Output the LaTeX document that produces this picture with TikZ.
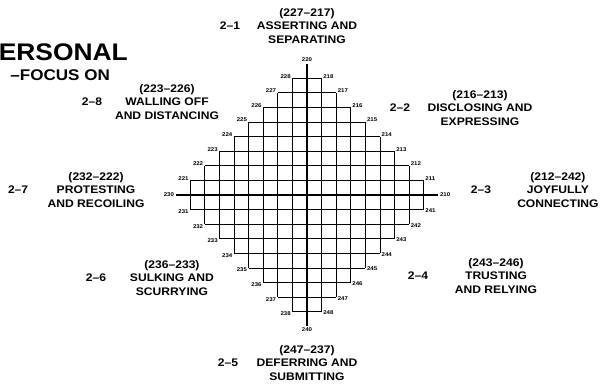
\documentclass[tikz,border=0pt]{standalone}
\usepackage{fontspec}
\setmainfont{Liberation Sans}[FakeStretch=1.1]
\usetikzlibrary{positioning}
\tikzset{
    base/.style={font=\bfseries, align=center, inner sep=0pt},
    cluster/.style={base, font=\fontsize{11}{13.5}\selectfont\bfseries},
    clnum/.style={base, font=\fontsize{11}{13.5}\selectfont\bfseries},
    pole/.style={base, font=\fontsize{5.5}{6}\selectfont\bfseries, inner sep=1.5pt},
    title/.style={base, anchor=east},
    cell/.style={line width=0.9pt},
    axis/.style={line width=2pt}
}

\begin{document}
\begin{tikzpicture}[x=14.6pt, y=14.6pt]
  \useasboundingbox (-21.03,-13.42) rectangle (20.21,13.36);
  \clip (-21.03,-13.42) rectangle (20.21,13.36);

  % Heading (at the left edge)
  \node[title, font=\fontsize{24}{28}\selectfont\bfseries] (ttl) at (-12.26,9.79) {ERSONAL};
  \node[title, font=\fontsize{15.5}{18}\selectfont\bfseries] (sub) at (-13.49,8.22) {--FOCUS ON};

  % Staircase grid
  \foreach \j in {-8,...,8}{
    \pgfmathtruncatemacro{\h}{min(8,9-abs(\j))}
    \draw[cell] (-\h,\j) -- (\h,\j);
  }
  \foreach \i in {-8,...,-1,1,2,...,8}{
    \pgfmathtruncatemacro{\v}{9-abs(\i)}
    \draw[cell] (\i,-\v) -- (\i,\v);
  }

  % Axes
  \coordinate (top) at (0,9);
  \coordinate (bot) at (0,-9);
  \coordinate (lft) at (-9,0);
  \coordinate (rgt) at (9,0);
  \draw[axis] (bot) -- (top);
  \draw[axis] (lft) -- (rgt);
  \node[pole, anchor=south] (p220) at (top) {220};
  \node[pole, anchor=west] (p210) at (rgt) {210};
  \node[pole, anchor=north] (p240) at (bot) {240};
  \node[pole, anchor=east] (p230) at (lft) {230};

  % Point numbers at the corners
  \foreach \y in {1,...,8}{
    \pgfmathtruncatemacro{\x}{9-\y}
    \pgfmathtruncatemacro{\a}{210+\y}
    \pgfmathtruncatemacro{\b}{220+\y}
    \pgfmathtruncatemacro{\c}{230+\y}
    \pgfmathtruncatemacro{\d}{240+\y}
    \node[pole, anchor=west, yshift=2pt] (q1-\y) at (\x,\y) {\a};
    \node[pole, anchor=east, yshift=2pt] (q2-\y) at (-\x,\y) {\b};
    \node[pole, anchor=east, yshift=-2pt] (q3-\y) at (-\x,-\y) {\c};
    \node[pole, anchor=west, yshift=-1pt] (q4-\y) at (\x,-\y) {\d};
  }

  % Clusters
  \node[cluster] (c1) at (0,11.58) {(227--217)\\ASSERTING AND\\SEPARATING};
  \node[clnum] (n1) at (-5.27,11.58) {2--1};
  \node[cluster] (c2) at (11.85,5.96) {(216--213)\\DISCLOSING AND\\EXPRESSING};
  \node[clnum] (n2) at (6.37,5.96) {2--2};
  \node[cluster] (c3) at (17.19,0.34) {(212--242)\\JOYFULLY\\CONNECTING};
  \node[clnum] (n3) at (11.92,0.34) {2--3};
  \node[cluster] (c4) at (12.95,-5.55) {(243--246)\\TRUSTING\\AND RELYING};
  \node[clnum] (n4) at (7.60,-5.55) {2--4};
  \node[cluster] (c5) at (0,-11.51) {(247--237)\\DEFERRING AND\\SUBMITTING};
  \node[clnum] (n5) at (-5.41,-11.51) {2--5};
  \node[cluster] (c6) at (-9.25,-5.68) {(236--233)\\SULKING AND\\SCURRYING};
  \node[clnum] (n6) at (-14.45,-5.68) {2--6};
  \node[cluster] (c7) at (-14.45,0.34) {(232--222)\\PROTESTING\\AND RECOILING};
  \node[clnum] (n7) at (-19.79,0.34) {2--7};
  \node[cluster] (c8) at (-9.59,6.37) {(223--226)\\WALLING OFF\\AND DISTANCING};
  \node[clnum] (n8) at (-14.73,6.37) {2--8};
\end{tikzpicture}
\end{document}
